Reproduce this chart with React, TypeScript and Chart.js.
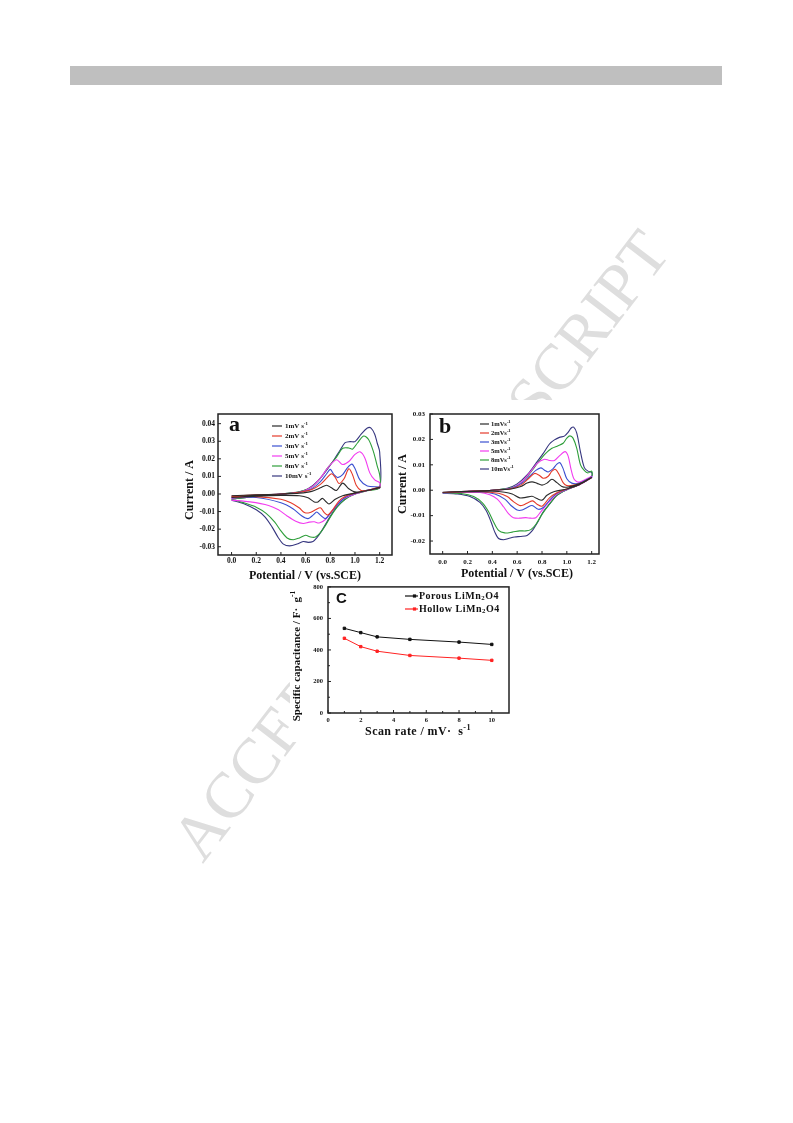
import React, { useEffect, useRef } from 'react';
import { Chart, registerables } from 'chart.js';
Chart.register(...registerables);

const SERIF = "'Liberation Serif','Times New Roman',serif";
const SANS = "'Liberation Sans',Arial,sans-serif";

// ---------- data ----------
const cvRates = [1, 2, 3, 5, 8, 10];
const cvColors = ['#2b2b2b', '#e53a2a', '#3a4fd0', '#f23cf0', '#2e9e3a', '#36367f'];

// panel a: [potential V, current A], anodic sweep then cathodic sweep
const cvA1: [number, number][] = [[0,-0.001],[0.2,-0.0005],[0.4,0],[0.55,0.0005],[0.65,0.0015],[0.72,0.0035],[0.77,0.005],[0.81,0.0035],[0.85,0.002],[0.9,0.0062],[0.95,0.003],[1.0,0.0012],[1.1,0.002],[1.2,0.0038],
  [1.2,0.0035],[1.1,0.002],[1.0,0.0005],[0.9,-0.001],[0.84,-0.003],[0.79,-0.0057],[0.76,-0.004],[0.735,-0.0025],[0.7,-0.0045],[0.67,-0.0045],[0.62,-0.0022],[0.55,-0.001],[0.4,-0.0008],[0.2,-0.0012],[0,-0.002]];
const cvA2: [number, number][] = [[0,-0.0012],[0.2,-0.0005],[0.4,0],[0.55,0.001],[0.65,0.0025],[0.72,0.0055],[0.77,0.009],[0.81,0.0115],[0.84,0.0095],[0.87,0.006],[0.91,0.0085],[0.95,0.0143],[0.98,0.011],[1.01,0.005],[1.05,0.002],[1.1,0.002],[1.2,0.004],
  [1.2,0.0035],[1.1,0.002],[1.0,0.0005],[0.93,-0.001],[0.87,-0.004],[0.82,-0.009],[0.78,-0.012],[0.75,-0.0105],[0.72,-0.0078],[0.68,-0.009],[0.63,-0.0107],[0.59,-0.0105],[0.55,-0.008],[0.48,-0.005],[0.4,-0.003],[0.2,-0.0015],[0,-0.0018]];
const cvA3: [number, number][] = [[0,-0.0015],[0.2,-0.0007],[0.4,0],[0.55,0.001],[0.65,0.003],[0.72,0.007],[0.77,0.0115],[0.8,0.014],[0.83,0.011],[0.86,0.0093],[0.9,0.011],[0.94,0.015],[0.975,0.017],[1.0,0.0145],[1.04,0.008],[1.1,0.0045],[1.2,0.004],
  [1.2,0.0035],[1.1,0.002],[1.0,0.0003],[0.92,-0.002],[0.86,-0.006],[0.8,-0.011],[0.76,-0.014],[0.72,-0.012],[0.69,-0.0102],[0.66,-0.012],[0.62,-0.014],[0.57,-0.0125],[0.5,-0.0085],[0.4,-0.005],[0.2,-0.002],[0,-0.0022]];
const cvA5: [number, number][] = [[0,-0.0025],[0.2,-0.001],[0.4,0],[0.55,0.001],[0.65,0.004],[0.72,0.009],[0.78,0.015],[0.85,0.0195],[0.9,0.0168],[0.95,0.0185],[1.0,0.0225],[1.04,0.024],[1.08,0.0205],[1.12,0.012],[1.16,0.008],[1.2,0.0065],
  [1.2,0.004],[1.1,0.002],[1.0,0],[0.9,-0.003],[0.82,-0.009],[0.76,-0.0145],[0.71,-0.0165],[0.67,-0.0158],[0.63,-0.016],[0.58,-0.0168],[0.52,-0.0155],[0.45,-0.0125],[0.38,-0.009],[0.3,-0.0065],[0.15,-0.0045],[0,-0.0035]];
const cvA8: [number, number][] = [[0,-0.003],[0.2,-0.0012],[0.4,0],[0.55,0.0012],[0.65,0.004],[0.72,0.009],[0.78,0.015],[0.85,0.021],[0.9,0.026],[0.95,0.0262],[0.98,0.0255],[1.02,0.029],[1.07,0.033],[1.11,0.031],[1.15,0.024],[1.18,0.016],[1.2,0.011],
  [1.2,0.0035],[1.1,0.0018],[1.0,0],[0.92,-0.003],[0.86,-0.007],[0.81,-0.012],[0.76,-0.018],[0.72,-0.022],[0.68,-0.0245],[0.64,-0.0245],[0.6,-0.0235],[0.55,-0.025],[0.5,-0.026],[0.45,-0.025],[0.4,-0.021],[0.35,-0.016],[0.28,-0.011],[0.2,-0.0075],[0.1,-0.005],[0,-0.003]];
const cvA10: [number, number][] = [[0,-0.003],[0.2,-0.0012],[0.4,0],[0.55,0.0012],[0.62,0.003],[0.7,0.0075],[0.77,0.0135],[0.83,0.0195],[0.88,0.025],[0.92,0.0292],[0.96,0.0298],[1.0,0.0298],[1.05,0.034],[1.1,0.0375],[1.13,0.0375],[1.16,0.034],[1.18,0.029],[1.2,0.024],
  [1.2,0.004],[1.1,0.0022],[1.0,0],[0.94,-0.002],[0.88,-0.0055],[0.83,-0.0095],[0.78,-0.015],[0.73,-0.021],[0.69,-0.025],[0.66,-0.027],[0.62,-0.0275],[0.58,-0.027],[0.53,-0.0285],[0.47,-0.0295],[0.42,-0.0285],[0.38,-0.025],[0.33,-0.019],[0.27,-0.013],[0.2,-0.009],[0.1,-0.0055],[0,-0.0035]];

// panel b
const cvB1: [number, number][] = [[0,-0.0008],[0.2,-0.0004],[0.4,0],[0.55,0.0005],[0.63,0.0015],[0.68,0.0028],[0.72,0.0033],[0.76,0.0027],[0.8,0.002],[0.84,0.0028],[0.88,0.0043],[0.92,0.003],[0.96,0.0015],[1.0,0.0012],[1.1,0.0025],[1.2,0.005],
  [1.2,0.005],[1.1,0.0022],[1.0,0.0005],[0.9,-0.0005],[0.84,-0.002],[0.8,-0.0039],[0.76,-0.0033],[0.72,-0.0024],[0.67,-0.0028],[0.62,-0.003],[0.56,-0.0015],[0.5,-0.0008],[0.4,-0.0004],[0.2,-0.0005],[0,-0.0008]];
const cvB2: [number, number][] = [[0,-0.0009],[0.2,-0.0004],[0.4,0],[0.55,0.0006],[0.63,0.002],[0.69,0.0045],[0.74,0.0066],[0.78,0.0058],[0.81,0.0047],[0.85,0.0055],[0.88,0.0075],[0.91,0.0082],[0.94,0.006],[0.97,0.003],[1.0,0.0018],[1.1,0.0025],[1.2,0.005],
  [1.2,0.005],[1.1,0.0022],[1.0,0.0005],[0.92,-0.001],[0.86,-0.003],[0.8,-0.0063],[0.76,-0.0055],[0.725,-0.0042],[0.69,-0.0048],[0.65,-0.0058],[0.62,-0.006],[0.57,-0.0045],[0.52,-0.0025],[0.45,-0.0012],[0.3,-0.0006],[0,-0.0009]];
const cvB3: [number, number][] = [[0,-0.0009],[0.2,-0.0004],[0.4,0],[0.55,0.0007],[0.63,0.0025],[0.7,0.0055],[0.75,0.0078],[0.79,0.0088],[0.82,0.0079],[0.85,0.0072],[0.89,0.0085],[0.92,0.0103],[0.945,0.0108],[0.97,0.0085],[1.0,0.0045],[1.04,0.0028],[1.1,0.0028],[1.2,0.0052],
  [1.2,0.005],[1.1,0.0022],[1.0,0.0004],[0.92,-0.0012],[0.86,-0.004],[0.81,-0.0068],[0.77,-0.0075],[0.72,-0.006],[0.68,-0.0068],[0.64,-0.0078],[0.6,-0.0078],[0.55,-0.006],[0.5,-0.0035],[0.42,-0.0015],[0.3,-0.0007],[0,-0.001]];
const cvB5: [number, number][] = [[0,-0.001],[0.2,-0.0005],[0.4,0],[0.55,0.0008],[0.63,0.003],[0.7,0.0068],[0.76,0.0105],[0.82,0.0122],[0.86,0.0117],[0.9,0.0117],[0.94,0.0135],[0.985,0.0152],[1.01,0.0135],[1.035,0.008],[1.06,0.0042],[1.1,0.0032],[1.2,0.0055],
  [1.2,0.005],[1.1,0.0022],[1.0,0.0003],[0.92,-0.0015],[0.85,-0.005],[0.79,-0.0085],[0.75,-0.0108],[0.71,-0.011],[0.67,-0.0108],[0.62,-0.011],[0.57,-0.0108],[0.53,-0.0092],[0.49,-0.0065],[0.44,-0.0035],[0.38,-0.0018],[0.3,-0.0009],[0,-0.001]];
const cvB8: [number, number][] = [[0,-0.001],[0.2,-0.0005],[0.4,0],[0.55,0.001],[0.62,0.0025],[0.7,0.0065],[0.77,0.011],[0.83,0.0145],[0.88,0.0165],[0.93,0.0175],[0.97,0.0185],[1.0,0.0205],[1.025,0.0214],[1.05,0.0205],[1.08,0.0165],[1.11,0.01],[1.14,0.0078],[1.17,0.0068],[1.2,0.0075],
  [1.2,0.0055],[1.1,0.0022],[1.0,0.0002],[0.92,-0.002],[0.86,-0.0055],[0.8,-0.0095],[0.75,-0.0135],[0.71,-0.0155],[0.67,-0.016],[0.62,-0.016],[0.56,-0.0165],[0.5,-0.0168],[0.45,-0.0158],[0.41,-0.0125],[0.37,-0.0085],[0.32,-0.005],[0.25,-0.0025],[0.15,-0.0013],[0,-0.001]];
const cvB10: [number, number][] = [[0,-0.001],[0.2,-0.0005],[0.4,0],[0.52,0.0008],[0.6,0.0025],[0.68,0.006],[0.75,0.0105],[0.81,0.0145],[0.86,0.0182],[0.9,0.0198],[0.94,0.0208],[0.98,0.0213],[1.01,0.0228],[1.035,0.0245],[1.055,0.0248],[1.08,0.0225],[1.11,0.015],[1.14,0.009],[1.17,0.0075],[1.2,0.007],
  [1.2,0.0055],[1.1,0.0022],[1.0,0.0002],[0.92,-0.002],[0.86,-0.0055],[0.81,-0.0085],[0.76,-0.013],[0.72,-0.016],[0.68,-0.0178],[0.63,-0.0182],[0.58,-0.0184],[0.53,-0.019],[0.49,-0.0195],[0.45,-0.019],[0.42,-0.0165],[0.39,-0.0125],[0.35,-0.008],[0.3,-0.0048],[0.22,-0.0025],[0.12,-0.0015],[0,-0.0012]];

const cvAList = [cvA1, cvA2, cvA3, cvA5, cvA8, cvA10];
const cvBList = [cvB1, cvB2, cvB3, cvB5, cvB8, cvB10];

// panel c
const scanRates = [1, 2, 3, 5, 8, 10];
const porousCap = [537, 510, 483, 467, 450, 435];
const hollowCap = [474, 421, 392, 365, 348, 334];
const capLabels = ['Porous LiMn', 'Hollow LiMn'];
const capColors = ['#111111', '#ff2222'];

// tick labels
const aXTicks = [0, 0.2, 0.4, 0.6, 0.8, 1.0, 1.2];
const aYTicks = [-0.03, -0.02, -0.01, 0, 0.01, 0.02, 0.03, 0.04];
const bXTicks = [0, 0.2, 0.4, 0.6, 0.8, 1.0, 1.2];
const bYTicks = [-0.02, -0.01, 0, 0.01, 0.02, 0.03];
const cXTicks = [0, 2, 4, 6, 8, 10];
const cYTicks = [0, 200, 400, 600, 800];
const cXMinor = [1, 3, 5, 7, 9];
const cYMinor = [100, 300, 500, 700];

// ---------- helpers ----------
type Part = { t: string; sup?: boolean; sub?: boolean };
type Box = { left: number; top: number; w: number; h: number };

function fontStr(size: number, family: string, weight = 'bold') {
  return `${weight} ${size}px ${family}`;
}

function richWidth(ctx: CanvasRenderingContext2D, parts: Part[], size: number, family: string) {
  let w = 0;
  for (const p of parts) {
    const s = p.sup || p.sub ? size * 0.68 : size;
    ctx.font = fontStr(s, family);
    w += ctx.measureText(p.t).width;
  }
  return w;
}

function drawRich(ctx: CanvasRenderingContext2D, parts: Part[], x: number, y: number, size: number, family: string, align: 'left' | 'center', spacing = 0) {
  ctx.save();
  (ctx as any).letterSpacing = `${spacing}px`;
  const w = richWidth(ctx, parts, size, family);
  let cx = align === 'center' ? x - w / 2 : x;
  ctx.textAlign = 'left';
  ctx.textBaseline = 'middle';
  for (const p of parts) {
    const s = p.sup || p.sub ? size * 0.68 : size;
    const dy = p.sup ? -size * 0.36 : p.sub ? size * 0.25 : 0;
    ctx.font = fontStr(s, family);
    ctx.fillText(p.t, cx, y + dy);
    cx += ctx.measureText(p.t).width;
  }
  ctx.restore();
}

type Decor = {
  box: Box;
  letter: { text: string; x: number; y: number; font: string };
  legend: { x0: number; x1: number; tx: number; ys: number[]; colors: string[]; labels: Part[][]; size: number; spacing?: number; marker?: boolean };
  xTitle: { parts: Part[]; x: number; y: number; size: number; spacing?: number };
  yTitle: { parts: Part[]; x: number; y: number; size: number; spacing?: number };
  minorX?: number[];
  minorY?: number[];
};

function makeDecor(d: Decor) {
  return {
    id: 'decor',
    afterDatasetsDraw(chart: any) {
      const ctx: CanvasRenderingContext2D = chart.ctx;
      const a = chart.chartArea;
      const ox = d.box.left, oy = d.box.top;
      ctx.save();
      ctx.fillStyle = '#111';
      ctx.strokeStyle = '#222';
      // frame
      ctx.lineWidth = 1.5;
      ctx.strokeRect(a.left, a.top, a.right - a.left, a.bottom - a.top);
      // ticks (inward)
      ctx.lineWidth = 1;
      const xs = chart.scales.x, ys = chart.scales.y;
      ctx.beginPath();
      xs.ticks.forEach((t: any) => { const p = xs.getPixelForValue(t.value); ctx.moveTo(p, a.bottom); ctx.lineTo(p, a.bottom - 3); });
      ys.ticks.forEach((t: any) => { const p = ys.getPixelForValue(t.value); ctx.moveTo(a.left, p); ctx.lineTo(a.left + 3, p); });
      (d.minorX || []).forEach(v => { const p = xs.getPixelForValue(v); ctx.moveTo(p, a.bottom); ctx.lineTo(p, a.bottom - 2); });
      (d.minorY || []).forEach(v => { const p = ys.getPixelForValue(v); ctx.moveTo(a.left, p); ctx.lineTo(a.left + 2, p); });
      ctx.stroke();
      // panel letter
      ctx.font = d.letter.font;
      ctx.textAlign = 'left';
      ctx.textBaseline = 'alphabetic';
      ctx.fillText(d.letter.text, d.letter.x - ox, d.letter.y - oy);
      // legend
      const L = d.legend;
      L.ys.forEach((y, i) => {
        const yy = y - oy;
        ctx.strokeStyle = L.colors[i];
        ctx.lineWidth = 1.2;
        ctx.beginPath();
        ctx.moveTo(L.x0 - ox, yy);
        ctx.lineTo(L.x1 - ox, yy);
        ctx.stroke();
        if (L.marker) {
          ctx.fillStyle = L.colors[i];
          const mx = (L.x0 + L.x1) / 2 - ox + 3;
          ctx.fillRect(mx - 1.6, yy - 1.6, 3.2, 3.2);
        }
        ctx.fillStyle = '#111';
        drawRich(ctx, L.labels[i], L.tx - ox, yy, L.size, SERIF, 'left', L.spacing || 0);
      });
      // titles
      ctx.fillStyle = '#111';
      drawRich(ctx, d.xTitle.parts, d.xTitle.x - ox, d.xTitle.y - oy, d.xTitle.size, SERIF, 'center', d.xTitle.spacing || 0);
      ctx.save();
      ctx.translate(d.yTitle.x - ox, d.yTitle.y - oy);
      ctx.rotate(-Math.PI / 2);
      drawRich(ctx, d.yTitle.parts, 0, 0, d.yTitle.size, SERIF, 'center', d.yTitle.spacing || 0);
      ctx.restore();
      ctx.restore();
    },
  };
}

function makeScale(min: number, max: number, ticks: number[], fmt: (v: number) => string, size: number, pad: number, isX: boolean, fit: number) {
  return {
    type: 'linear',
    min,
    max,
    grid: { display: false, drawTicks: false },
    border: { display: false },
    afterBuildTicks: (s: any) => { s.ticks = ticks.map(v => ({ value: v })); },
    afterFit: (s: any) => { if (isX) s.height = fit; else s.width = fit; },
    ticks: {
      autoSkip: false, maxRotation: 0, minRotation: 0, padding: pad, color: '#111',
      font: { family: SERIF, size, weight: 'bold' },
      callback: (v: any) => fmt(Number(v)),
    },
  };
}

const boxA: Box = { left: 180, top: 403, w: 216, h: 183 };
const boxB: Box = { left: 394, top: 400, w: 218, h: 186 };
const boxC: Box = { left: 290, top: 578, w: 225, h: 164 };

function cvDatasets(list: [number, number][][]) {
  return list.map((curve, i) => ({
    label: `${cvRates[i]} mV/s`,
    data: curve.map(([x, y]) => ({ x, y })),
    showLine: true,
    borderColor: cvColors[i],
    backgroundColor: cvColors[i],
    borderWidth: 1.1,
    pointRadius: 0,
    tension: 0.3,
    fill: false,
  }));
}

function configA() {
  return {
    type: 'scatter',
    data: { datasets: cvDatasets(cvAList) },
    options: {
      responsive: false, animation: false, events: [],
      layout: { padding: { top: 11, right: 4, left: 0, bottom: 0 } },
      plugins: { legend: { display: false }, tooltip: { enabled: false } },
      scales: {
        x: makeScale(-0.11, 1.3, aXTicks, v => v.toFixed(1), 7.5, 2, true, 31),
        y: makeScale(-0.0347, 0.0455, aYTicks, v => v.toFixed(2), 7.5, 3, false, 38),
      },
    },
    plugins: [makeDecor({
      box: boxA,
      letter: { text: 'a', x: 229, y: 431, font: fontStr(22, SERIF) },
      legend: { x0: 272, x1: 282, tx: 285, ys: [426, 436, 446, 456, 466, 476], colors: cvColors, size: 7, labels: cvRates.map(r => [{ t: `${r}mV s` }, { t: '-1', sup: true }]) },
      xTitle: { parts: [{ t: 'Potential / V (vs.SCE)' }], x: 305, y: 576, size: 12 },
      yTitle: { parts: [{ t: 'Current / A' }], x: 190, y: 490, size: 12 },
    })],
  };
}

function configB() {
  return {
    type: 'scatter',
    data: { datasets: cvDatasets(cvBList) },
    options: {
      responsive: false, animation: false, events: [],
      layout: { padding: { top: 14, right: 13, left: 0, bottom: 0 } },
      plugins: { legend: { display: false }, tooltip: { enabled: false } },
      scales: {
        x: makeScale(-0.102, 1.259, bXTicks, v => v.toFixed(1), 7, 4, true, 32),
        y: makeScale(-0.0251, 0.03, bYTicks, v => v.toFixed(2), 7, 5, false, 36),
      },
    },
    plugins: [makeDecor({
      box: boxB,
      letter: { text: 'b', x: 439, y: 433, font: fontStr(22, SERIF) },
      legend: { x0: 480, x1: 489, tx: 491, ys: [424, 433, 442, 451, 460, 469], colors: cvColors, size: 6.5, labels: cvRates.map(r => [{ t: `${r}mVs` }, { t: '-1', sup: true }]) },
      xTitle: { parts: [{ t: 'Potential / V (vs.SCE)' }], x: 517, y: 574, size: 12 },
      yTitle: { parts: [{ t: 'Current / A' }], x: 403, y: 484, size: 12 },
    })],
  };
}

function configC() {
  const mk = (vals: number[], i: number) => ({
    label: capLabels[i],
    data: scanRates.map((x, j) => ({ x, y: vals[j] })),
    showLine: true,
    borderColor: capColors[i],
    backgroundColor: capColors[i],
    borderWidth: 1,
    pointStyle: 'rect',
    pointRadius: 1.7,
    tension: 0,
  });
  return {
    type: 'scatter',
    data: { datasets: [mk(porousCap, 0), mk(hollowCap, 1)] },
    options: {
      responsive: false, animation: false, events: [],
      layout: { padding: { top: 7, right: 6, left: 0, bottom: 0 } },
      plugins: { legend: { display: false }, tooltip: { enabled: false } },
      scales: {
        x: makeScale(0, 11.05, cXTicks, v => String(v), 6.5, 3, true, 29),
        y: makeScale(0, 800, cYTicks, v => String(v), 6.5, 5, false, 38),
      },
    },
    plugins: [makeDecor({
      box: boxC,
      letter: { text: 'C', x: 336, y: 603, font: fontStr(15, SANS) },
      legend: {
        x0: 405, x1: 418, tx: 419, ys: [596, 609], colors: capColors, size: 10, spacing: 0.5, marker: true,
        labels: capLabels.map(l => [{ t: l }, { t: '2', sub: true }, { t: 'O4' }]),
      },
      xTitle: { parts: [{ t: 'Scan rate / mV·  s' }, { t: '-1', sup: true }], x: 418, y: 732, size: 12, spacing: 0.4 },
      yTitle: { parts: [{ t: 'Specific capacitance / F·  g' }, { t: '-1', sup: true }], x: 297, y: 656, size: 11 },
      minorX: cXMinor,
      minorY: cYMinor,
    })],
  };
}

function ChartCanvas({ box, build, bg }: { box: Box; build: () => any; bg: string }) {
  const ref = useRef<HTMLCanvasElement>(null);
  useEffect(() => {
    const chart = new Chart(ref.current as HTMLCanvasElement, build());
    return () => chart.destroy();
  }, []);
  return (
    <canvas
      ref={ref}
      width={box.w}
      height={box.h}
      style={{ position: 'absolute', left: box.left, top: box.top, width: box.w, height: box.h, background: bg }}
    />
  );
}

export default function App() {
  return (
    <div style={{ position: 'absolute', left: 0, top: 0, width: 793, height: 1123, background: '#fff', overflow: 'hidden' }}>
      <div style={{ position: 'absolute', left: 70, top: 66, width: 652, height: 19, background: '#bfbfbf' }} />
      <div
        style={{
          position: 'absolute', left: 420 - 420, top: 545 - 33, width: 840, height: 66,
          lineHeight: '66px', textAlign: 'center', whiteSpace: 'nowrap',
          fontFamily: SERIF, fontSize: 65, color: '#dedede',
          transform: 'rotate(-52.5deg)', transformOrigin: '50% 50%',
        }}
      >
        ACCEPTED MANUSCRIPT
      </div>
      <ChartCanvas box={boxA} build={configA} bg="#fff" />
      <ChartCanvas box={boxB} build={configB} bg="#fff" />
      <div style={{ position: 'absolute', left: 290, top: 586, width: 225, height: 156, background: '#fff' }} />
      <ChartCanvas box={boxC} build={configC} bg="transparent" />
    </div>
  );
}
